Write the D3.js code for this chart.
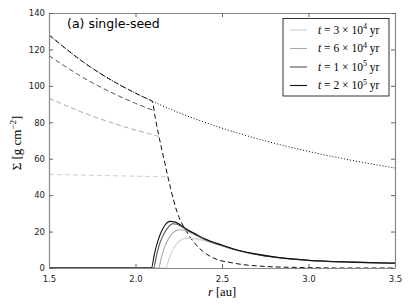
<!DOCTYPE html>
<html>
<head>
<meta charset="utf-8">
<script src="https://d3js.org/d3.v7.min.js"></script>
<style>
  body { margin: 0; background: #fff; }
  .tick text { font-family: "DejaVu Sans", sans-serif; font-size: 8.5px; fill: #222; }
  .math { font-family: "Liberation Serif", "DejaVu Serif", serif; }
</style>
</head>
<body>
<div id="chart"></div>
<script>
// times shown in legend
var times = ["3", "6", "1", "2"],
    timeExp = ["4", "4", "5", "5"],
    colors = ["#cfcfcf", "#a8a8a8", "#555555", "#111111"];

// initial profile (dotted)
var initR = [1.5, 1.75, 2.0, 2.25, 2.5, 2.75, 3.0, 3.25, 3.5],
    initS = [128, 109.7, 96, 85.3, 76.8, 69.8, 64, 59.1, 54.9];

// gas profiles (dashed), one per time
var gasR = [
  [1.5, 1.8, 2.0, 2.1, 2.17, 2.187],
  [1.5, 1.7, 1.9, 2.0, 2.1, 2.12, 2.134],
  [1.5, 1.7, 1.9, 2.0, 2.06, 2.09, 2.104],
  [1.5, 1.7, 1.9, 2.0, 2.05, 2.08, 2.096, 2.115, 2.134, 2.17, 2.202, 2.241, 2.289, 2.357, 2.45, 2.567, 2.76, 2.95, 3.2, 3.5]
];
var gasS = [
  [51.4, 50.8, 50.4, 50.2, 50.1, 50],
  [93.2, 85.2, 78.6, 75.7, 73.2, 72.6, 72.3],
  [116.6, 104.4, 94.6, 90.4, 88.1, 87, 86.6],
  [128, 112.9, 101, 96, 93.7, 92.4, 91.6, 82, 73, 57.5, 44, 30.5, 21, 12, 5.5, 2.7, 0.8, 0.3, 0, 0]
];

// dust profiles (solid)
var dustR = [
  [1.5, 2.175, 2.19, 2.21, 2.24, 2.27, 2.3, 2.35, 2.4, 2.45, 2.5, 2.6, 2.7, 2.8, 3.0, 3.25, 3.5],
  [1.5, 2.134, 2.15, 2.17, 2.2, 2.23, 2.26, 2.3, 2.35, 2.4, 2.5, 2.6, 2.7, 2.8, 3.0, 3.25, 3.5],
  [1.5, 2.104, 2.124, 2.144, 2.165, 2.19, 2.215, 2.24, 2.27, 2.3, 2.35, 2.4, 2.5, 2.6, 2.7, 2.8, 3.0, 3.25, 3.5],
  [1.5, 2.092, 2.11, 2.13, 2.15, 2.17, 2.2, 2.23, 2.27, 2.3, 2.35, 2.4, 2.5, 2.6, 2.7, 2.8, 3.0, 3.25, 3.5]
];
var dustS = [
  [0, 0, 4, 9, 13.5, 15.8, 16.3, 16, 15, 13.5, 12, 9.3, 7.3, 5.9, 4.1, 3.1, 2.5],
  [0, 0, 6, 12, 17.5, 20.3, 21, 20.2, 17.8, 15.4, 12.2, 9.4, 7.4, 5.9, 4.1, 3.1, 2.55],
  [0, 0, 8, 14.5, 19, 22.5, 24.3, 24, 22.5, 20.9, 18.3, 15.8, 12.4, 9.5, 7.5, 6, 4.2, 3.2, 2.6],
  [0, 0, 8, 15, 20, 23.5, 25.6, 25.2, 23, 21, 18.5, 16, 12.6, 9.6, 7.6, 6.1, 4.25, 3.25, 2.65]
];

var xTicks = [1.5, 2.0, 2.5, 3.0, 3.5],
    yTicks = [0, 20, 40, 60, 80, 100, 120, 140];

var width = 411, height = 308,
    margin = { top: 13, right: 16, bottom: 40, left: 49 };

var svg = d3.select("#chart").append("svg")
    .attr("width", width).attr("height", height);

var x = d3.scaleLinear().domain([1.5, 3.5]).range([margin.left, width - margin.right]);
var y = d3.scaleLinear().domain([0, 140]).range([height - margin.bottom, margin.top]);

var line = d3.line()
    .x(function(d) { return x(d[0]); })
    .y(function(d) { return y(d[1]); })
    .curve(d3.curveMonotoneX);

function pairs(rs, ss) { return rs.map(function(r, i) { return [r, ss[i]]; }); }

var plot = svg.append("g");

// initial profile
plot.append("path")
    .attr("d", line(pairs(initR, initS)))
    .attr("fill", "none").attr("stroke", "#000").attr("stroke-width", 1)
    .attr("stroke-dasharray", "1,2");

// gas (dashed)
gasR.forEach(function(rs, i) {
  plot.append("path")
      .attr("d", line(pairs(rs, gasS[i])))
      .attr("fill", "none").attr("stroke", colors[i]).attr("stroke-width", 1)
      .attr("stroke-dasharray", "5,3");
});

// dust (solid)
dustR.forEach(function(rs, i) {
  plot.append("path")
      .attr("d", line(pairs(rs, dustS[i])))
      .attr("fill", "none").attr("stroke", colors[i]).attr("stroke-width", 1.1);
});

// axes with inward ticks on all sides
var fmt = d3.format(".1f");
svg.append("g").attr("transform", "translate(0," + y(0) + ")")
    .call(d3.axisBottom(x).tickValues(xTicks).tickFormat(fmt).tickSizeInner(-4).tickSizeOuter(0).tickPadding(8));
svg.append("g").attr("transform", "translate(0," + y(140) + ")")
    .call(d3.axisTop(x).tickValues(xTicks).tickFormat("").tickSizeInner(-4).tickSizeOuter(0));
svg.append("g").attr("transform", "translate(" + x(1.5) + ",0)")
    .call(d3.axisLeft(y).tickValues(yTicks).tickSizeInner(-4).tickSizeOuter(0).tickPadding(4));
svg.append("g").attr("transform", "translate(" + x(3.5) + ",0)")
    .call(d3.axisRight(y).tickValues(yTicks).tickFormat("").tickSizeInner(-4).tickSizeOuter(0));

svg.selectAll(".domain").attr("stroke", "#888").attr("stroke-width", 1.2);
svg.selectAll(".tick line").attr("stroke", "#666");

// title
svg.append("text")
    .attr("x", 67).attr("y", 28)
    .attr("font-family", "DejaVu Sans, sans-serif").attr("font-size", 12.5)
    .text("(a) single-seed");

// axis labels
var xl = svg.append("text").attr("class", "math")
    .attr("x", x(2.5)).attr("y", 296).attr("text-anchor", "middle").attr("font-size", 12.5);
xl.append("tspan").attr("font-style", "italic").text("r");
xl.append("tspan").text(" [au]");

var yl = svg.append("text").attr("class", "math")
    .attr("transform", "translate(21,143) rotate(-90)")
    .attr("text-anchor", "middle").attr("font-size", 13);
yl.append("tspan").text("Σ [g cm");
yl.append("tspan").attr("dy", -5).attr("font-size", 9).text("−2");
yl.append("tspan").attr("dy", 5).text("]");

// legend
var lg = svg.append("g");
lg.append("rect")
    .attr("x", 283).attr("y", 18.5).attr("width", 106).attr("height", 77.5)
    .attr("fill", "#fff").attr("stroke", "#000").attr("stroke-width", 0.8);

times.forEach(function(t, i) {
  var yy = 30 + i * 18.5;
  lg.append("line")
      .attr("x1", 290).attr("x2", 307).attr("y1", yy).attr("y2", yy)
      .attr("stroke", colors[i]).attr("stroke-width", 1.1);
  var tx = lg.append("text").attr("class", "math")
      .attr("x", 318).attr("y", yy + 3.5).attr("font-size", 11.5);
  tx.append("tspan").attr("font-style", "italic").text("t");
  tx.append("tspan").text(" = " + t + " × 10");
  tx.append("tspan").attr("dy", -4.5).attr("font-size", 8).text(timeExp[i]);
  tx.append("tspan").attr("dy", 4.5).text(" yr");
});
</script>
</body>
</html>
